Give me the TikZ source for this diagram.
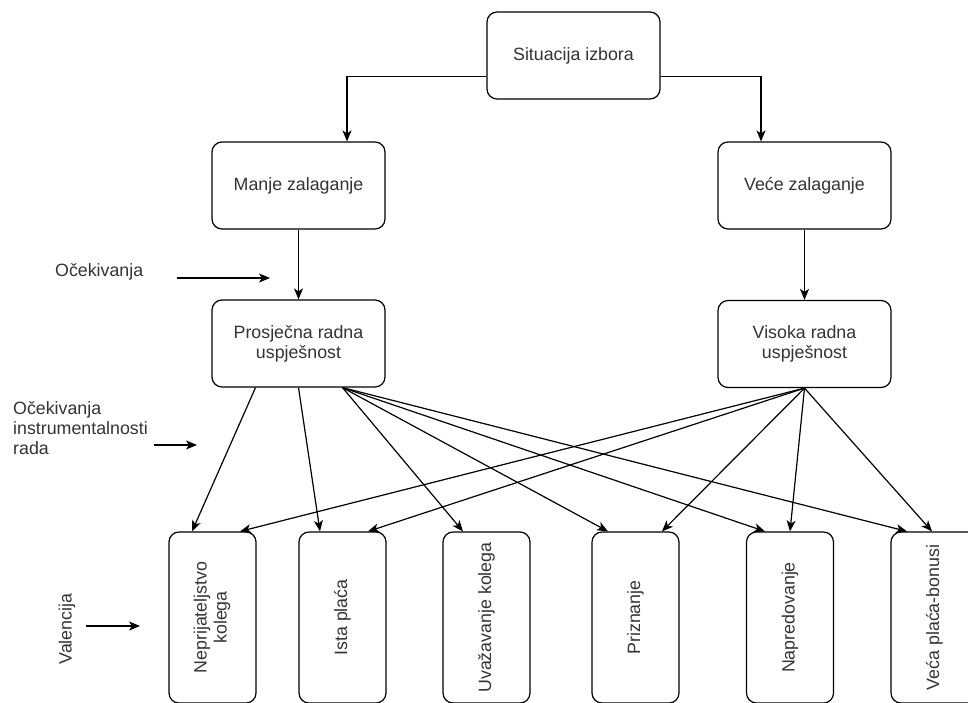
\documentclass[tikz,border=0pt]{standalone}
\usepackage{fontspec}
\setmainfont{Liberation Sans}
\usetikzlibrary{arrows.meta,calc}

\begin{document}
\begin{tikzpicture}[x=1pt, y=-1pt,
    box/.style={draw, rounded corners=10pt, minimum width=173pt, minimum height=87pt, align=center, line width=1.2pt, text=black!80, font=\fontsize{17.8}{20}\selectfont},
    vbox/.style={box, minimum width=87pt, minimum height=171pt},
    arr/.style={-{Stealth[length=11pt, width=9pt, inset=3pt]}, line width=1.2pt},
    lbl/.style={text=black!80, font=\fontsize{17.8}{20}\selectfont, align=left, inner sep=0pt}
]
\useasboundingbox (0,0) rectangle (968,702);
\clip (0,0) rectangle (968,702);

\node[box] (sit) at (573.5,55.5) {Situacija izbora};
\node[box] (manje) at (298.5,185.5) {Manje zalaganje};
\node[box] (vece) at (804.5,185.5) {Veće zalaganje};
\node[box] (pro) at (298.5,343.5) {Prosječna radna\\uspješnost};
\node[box] (vis) at (804.5,344) {Visoka radna\\uspješnost};

% valencije
\node[vbox] (nep) at (212.5,617.5) {\rotatebox{90}{\begin{tabular}{@{}c@{}}Neprijateljstvo\\kolega\end{tabular}}};
\node[vbox] (ista) at (342.5,617.5) {\rotatebox{90}{Ista plaća}};
\node[vbox] (uva) at (486.5,617.5) {\rotatebox{90}{Uvažavanje kolega}};
\node[vbox] (pri) at (635.5,617.5) {\rotatebox{90}{Priznanje}};
\node[vbox] (nap) at (790,617.5) {\rotatebox{90}{Napredovanje}};
\node[vbox] (vec) at (934.5,617.5) {\rotatebox{90}{Veća plaća-bonusi}};

% oznake lijevo
\node[lbl, anchor=west] (ocek) at (55,272) {Očekivanja};
\node[lbl, anchor=west] (instr) at (13,428) {Očekivanja\\instrumentalnosti\\rada};
\node[lbl, rotate=90] (val) at (67,629) {Valencija};
\coordinate (ocekA) at (177,278);
\coordinate (ocekB) at (270,278);
\coordinate (instrA) at (154,445);
\coordinate (instrB) at (197,445);
\coordinate (valA) at (86,626);
\coordinate (valB) at (140,626);

\draw[arr] (ocekA) -- (ocekB);
\draw[arr] (instrA) -- (instrB);
\draw[arr] (valA) -- (valB);

\draw[arr] ([yshift=-21pt]sit.west) -| ([xshift=48.5pt]manje.north);
\draw[arr] ([yshift=-21pt]sit.east) -| ([xshift=-43.5pt]vece.north);
\draw[arr] (manje) -- (pro);
\draw[arr] (vece) -- (vis);

\draw[arr] ([xshift=-43pt]pro.south) -- ([xshift=-20.5pt]nep.north);
\draw[arr] (pro.south) -- ([xshift=-22.5pt]ista.north);
\draw[arr] ([xshift=44pt]pro.south) -- ([xshift=-23.5pt]uva.north);
\draw[arr] ([xshift=44pt]pro.south) -- ([xshift=-27.5pt]pri.north);
\draw[arr] ([xshift=44pt]pro.south) -- ([xshift=-25pt]nap.north);
\draw[arr] ([xshift=44pt]pro.south) -- ([xshift=-27.5pt]vec.north);

\draw[arr] (vis.south) -- ([xshift=27.5pt]nep.north);
\draw[arr] (vis.south) -- ([xshift=25.5pt]ista.north);
\draw[arr] (vis.south) -- ([xshift=26.5pt]pri.north);
\draw[arr] (vis.south) -- (nap.north);
\draw[arr] (vis.south) -- ([xshift=-2.5pt]vec.north);
\end{tikzpicture}
\end{document}
